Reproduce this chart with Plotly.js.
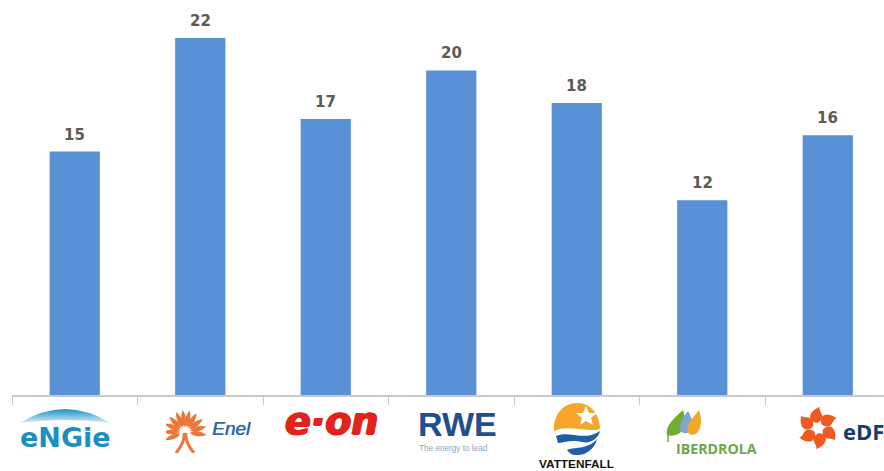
<!DOCTYPE html>
<html>
<head>
<meta charset="utf-8">
<script src="https://cdn.plot.ly/plotly-3.0.1.min.js"></script>
<style>
html,body{margin:0;padding:0;background:#fff;overflow:hidden}
#chart{width:884px;height:471px}
</style>
</head>
<body>
<div id="chart"></div>
<script>
// Utilities compared side by side, one bar and one brand mark per company
const companies = ["Engie", "Enel", "E.ON", "RWE", "Vattenfall", "Iberdrola", "EDF"];
const values = [15, 22, 17, 20, 18, 12, 16];

const barColor = "#5990d6";
const labelColor = "#5c5a55";
const axisColor = "#c9c9c9";

const W = 884, H = 471, left = 12, base = 395;
const px = x => (x - left) / (W - left);
const py = y => (base - y) / base;

function svgUri(w, h, body) {
  const s = `<svg xmlns="http://www.w3.org/2000/svg" width="${w}" height="${h}" viewBox="0 0 ${w} ${h}">${body}</svg>`;
  return "data:image/svg+xml;charset=utf-8," + encodeURIComponent(s);
}
function emblem(x, y, w, h, body) {
  return {source: svgUri(w, h, body), xref: "paper", yref: "paper", x: px(x), y: py(y),
          sizex: w / (W - left), sizey: h / base, xanchor: "left", yanchor: "top",
          sizing: "stretch", layer: "above"};
}
function word(text, x, y, size, color, family, anchor, shadow) {
  const font = {size: size, color: color, family: family};
  if (shadow) font.shadow = shadow;
  return {text: text, xref: "paper", yref: "paper", x: px(x), y: py(y), showarrow: false,
          xanchor: anchor || "left", yanchor: "middle", borderpad: 0, font: font};
}

// Engie dome
const engieDome = `<defs><linearGradient id="g" x1="0" x2="0" y1="0" y2="1"><stop offset="0" stop-color="#1a8fc4"/><stop offset="1" stop-color="#d8eef7"/></linearGradient></defs>
<path d="M0 14 Q45 -14 90 14 Q45 8 0 14Z" fill="url(#g)"/>`;

// Enel sunburst: a fan of rays above two curved legs
let enelMark = "";
[-112, -90, -68, -46, -24, -6, 12, 32, 54, 76, 98].forEach(a => {
  enelMark += `<path transform="rotate(${a} 19 23)" d="M19 18 C15.5 13 16 7 19 1 C22 7 22.5 13 19 18Z" fill="#e9783a"/>`;
});
enelMark += `<path d="M18 24 C19 32 15 38 10 44 M20 24 C19 32 23 38 28 44" stroke="#e9783a" stroke-width="3" fill="none"/>`;

// Vattenfall sun and waves
const vattenfallMark = `<path d="M1 28 C0 12 10 0 24 0 C38 0 47 12 47 26 C35 30 16 21 1 28Z" fill="#f5a62b"/>
<path d="M33 3 L36 10 L44 10 L38 15 L40 22 L33 18 L27 22 L29 15 L23 10 L30 10Z" fill="#fff"/>
<path d="M3 33 C16 27 32 39 47 28 C45 36 37 41 29 39 C18 36 10 40 5 40Z" fill="#1f5fa8"/>
<path d="M14 47 C24 43 34 47 44 36 C42 46 32 53 23 52 C19 52 16 50 14 47Z" fill="#1f5fa8"/>`;

// Iberdrola leaves
const iberdrolaMark = `<path d="M1 25 C-1 16 8 8 17 0 C20 10 20 21 10 25 C7 26 3 26 1 25Z" fill="#71ad32"/>
<path d="M2 24 L2 32" stroke="#71ad32" stroke-width="1.5"/>
<path d="M14 19 C14 11 18 6 22 1 C26 7 27 14 25 20 C22 25 15 24 14 19Z" fill="#7fa6cf"/>
<path d="M21 20 C21 12 28 7 33 0 C36 9 36 18 31 23 C27 26 22 25 21 20Z" fill="#eea92a"/>`;

// EDF pinwheel
let edfMark = "";
[0, 58, 122, 180, 238, 302].forEach(a => {
  edfMark += `<path transform="rotate(${a} 21 21)" d="M20 16 C10 14 11 4 23 0 C20 4 32 10 20 16Z" fill="#f05a22"/>`;
});

const images = [
  emblem(20, 409, 90, 16, engieDome),
  emblem(166, 409, 40, 44, enelMark),
  emblem(553, 403, 48, 53, vattenfallMark),
  emblem(666, 410, 36, 34, iberdrolaMark),
  emblem(797, 407, 42, 42, edfMark)
];

const thick = "1px 0 0 #e2231a, -1px 0 0 #e2231a, 0 1px 0 #e2231a";
const logoWords = [
  word("<b>eNGie</b>", 19, 438, 27, "#1b8fc2", "DejaVu Sans, sans-serif"),
  word("<i>Enel</i>", 211, 428, 19, "#2a68a8", "Liberation Sans, sans-serif", null, "0.5px 0 0 #2a68a8"),
  word("<b><i>e·on</i></b>", 284, 421, 38, "#e2231a", "DejaVu Sans, sans-serif", null, thick),
  word("<b>RWE</b>", 417, 424, 34, "#1f4f8e", "Liberation Sans, sans-serif"),
  word("The energy to lead", 418, 448, 8.2, "#8ea6bd", "Liberation Sans, sans-serif"),
  word("<b>VATTENFALL</b>", 576, 463.5, 11.8, "#111111", "Liberation Sans, sans-serif", "center"),
  word("<b>IBERDROLA</b>", 675, 448, 14.2, "#6aa84a", "Open Sans, sans-serif"),
  word("<b>eDF</b>", 842, 431, 22, "#173a78", "Open Sans, sans-serif")
];

// Value labels sit a fixed distance above each bar
const valueLabels = companies.map((c, i) => ({
  x: c, y: values[i], xref: "x", yref: "y", text: "<b>" + values[i] + "</b>",
  showarrow: false, yanchor: "middle", yshift: 17,
  font: {family: "DejaVu Sans, sans-serif", size: 15, color: labelColor}
}));

Plotly.newPlot("chart", [{
  type: "bar",
  x: companies,
  y: values,
  width: 0.4,
  marker: {color: barColor},
  hoverinfo: "x+y"
}], {
  width: W,
  height: H,
  margin: {l: left, r: 0, t: 0, b: H - base, pad: 0},
  paper_bgcolor: "#fff",
  plot_bgcolor: "#fff",
  showlegend: false,
  xaxis: {
    type: "category",
    range: [-0.5, 6.448],
    showticklabels: false,
    showgrid: false,
    zeroline: false,
    showline: true,
    linecolor: axisColor,
    linewidth: 1.5,
    ticks: "outside",
    tickson: "boundaries",
    ticklen: 8,
    tickwidth: 1,
    tickcolor: axisColor
  },
  yaxis: {range: [0, 24.34], visible: false, fixedrange: true},
  images: images,
  annotations: valueLabels.concat(logoWords)
}, {displayModeBar: false, staticPlot: true});
</script>
</body>
</html>
